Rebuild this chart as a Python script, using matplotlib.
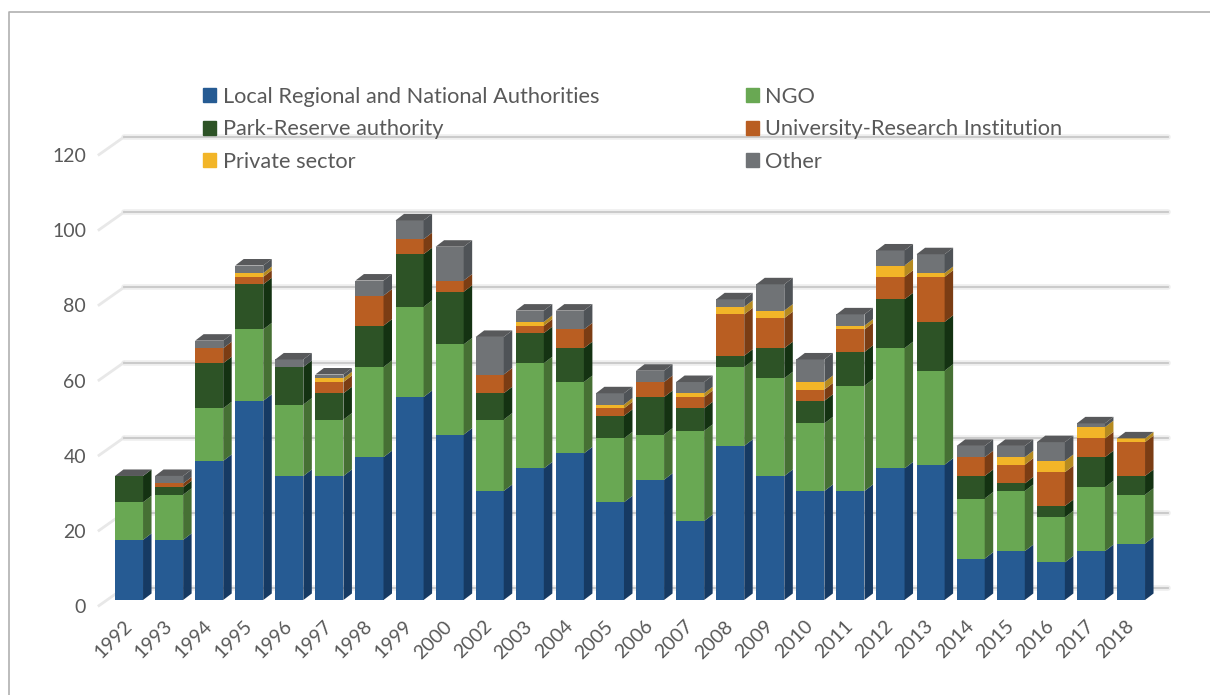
import matplotlib
matplotlib.use("Agg")
import matplotlib.pyplot as plt
from matplotlib.patches import Polygon, Patch
from matplotlib.transforms import ScaledTranslation

years = ["1992", "1993", "1994", "1995", "1996", "1997", "1998", "1999", "2000",
         "2002", "2003", "2004", "2005", "2006", "2007", "2008", "2009", "2010",
         "2011", "2012", "2013", "2014", "2015", "2016", "2017", "2018"]

authorities = [16, 16, 37, 53, 33, 33, 38, 54, 44, 29, 35, 39, 26, 32, 21, 41, 33, 29, 29, 35, 36, 11, 13, 10, 13, 15]
ngo = [10, 12, 14, 19, 19, 15, 24, 24, 24, 19, 28, 19, 17, 12, 24, 21, 26, 18, 28, 32, 25, 16, 16, 12, 17, 13]
park = [7, 2, 12, 12, 10, 7, 11, 14, 14, 7, 8, 9, 6, 10, 6, 3, 8, 6, 9, 13, 13, 6, 2, 3, 8, 5]
university = [0, 1, 4, 2, 0, 3, 8, 4, 3, 5, 2, 5, 2, 4, 3, 11, 8, 3, 6, 6, 12, 5, 5, 9, 5, 9]
private = [0, 0, 0, 1, 0, 1, 0, 0, 0, 0, 1, 0, 1, 0, 1, 2, 2, 2, 1, 3, 1, 0, 2, 3, 3, 1]
other = [0, 2, 2, 2, 2, 1, 4, 5, 9, 10, 3, 5, 3, 3, 3, 2, 7, 6, 3, 4, 5, 3, 3, 5, 1, 0]

series = [authorities, ngo, park, university, private, other]
names = ["Local Regional and National Authorities", "NGO", "Park-Reserve authority",
         "University-Research Institution", "Private sector", "Other"]
front = ["#265b93", "#69a853", "#2d5326", "#b95e22", "#f2b528", "#707376"]
side = ["#163a63", "#467034", "#143212", "#7b3d14", "#b58a20", "#4f5357"]
top_color = "#58595b"
text_color = "#595959"

plt.rcParams["font.family"] = ["Lato", "DejaVu Sans"]

W, H = 1210, 695
fig = plt.figure(figsize=(W / 100, H / 100), dpi=100)

# plot area in pixels of the picture
left, right, base, top = 100, 1170, 600, 149
ax = fig.add_axes([left / W, (H - base) / H, (right - left) / W, (base - top) / H])
step = 40.08
centre = 129
ax.set_xlim((left - centre) / step, (right - centre) / step)
ax.set_ylim(0, 120)
dx = 8.5 / step
dy = 6.5 / 3.76
width = 0.7

for s in ax.spines.values():
    s.set_visible(False)

# back wall grid, floor shifted a little more than the bars' depth
grid_y = 12 / 3.76
grid_x0 = (124 - centre) / step
grid_x1 = (1168 - centre) / step
stub_x0 = (99 - centre) / step
for v in range(0, 121, 20):
    ax.plot([grid_x0, grid_x1], [v + grid_y] * 2, color="#eeeeee", lw=4, zorder=1, clip_on=False, solid_capstyle="round")
    ax.plot([grid_x0, grid_x1], [v + grid_y] * 2, color="#c8c8c8", lw=1.3, zorder=1.1, clip_on=False)
    ax.plot([stub_x0, grid_x0], [v - 1.5, v + grid_y], color="#e8e8e8", lw=2, zorder=1, clip_on=False)

bottom = [0] * len(years)
for vals, fc, sc in zip(series, front, side):
    ax.bar(range(len(years)), vals, width, bottom=bottom, color=fc, zorder=3, clip_on=False)
    for i, v in enumerate(vals):
        if v == 0:
            continue
        x1 = i + width / 2
        b = bottom[i]
        ax.add_patch(Polygon([(x1, b), (x1 + dx, b + dy), (x1 + dx, b + v + dy), (x1, b + v)],
                             closed=True, fc=sc, ec="none", zorder=3, clip_on=False))
    bottom = [b + v for b, v in zip(bottom, vals)]

for i, t in enumerate(bottom):
    x0 = i - width / 2
    x1 = i + width / 2
    ax.add_patch(Polygon([(x0, t), (x0 + dx, t + dy), (x1 + dx, t + dy), (x1, t)],
                         closed=True, fc=top_color, ec="none", zorder=3, clip_on=False))

ax.set_yticks(range(0, 121, 20))
ax.set_xticks(range(len(years)))
ax.set_xticklabels(years, rotation=45, ha="right", va="center", rotation_mode="anchor")
ax.tick_params(axis="y", length=0, pad=10, labelsize=14, labelcolor=text_color)
ax.tick_params(axis="x", length=0, pad=17, labelsize=14, labelcolor=text_color)

# the value labels sit a bit under their front-edge position
for lab in ax.get_yticklabels():
    lab.set_transform(lab.get_transform() + ScaledTranslation(0, -6 / 100, fig.dpi_scale_trans))

# matplotlib fills legend columns first
order = [0, 2, 4, 1, 3, 5]
handles = [Patch(color=front[k]) for k in order]
labels = [names[k] for k in order]
fig.legend(handles, labels, ncol=2, frameon=False, fontsize=15.7, labelcolor=text_color,
           loc="upper left", bbox_to_anchor=(203 / W, 1 - 87 / H), borderpad=0, borderaxespad=0,
           handlelength=0.6, handleheight=0.6, handletextpad=0.3, columnspacing=6.72,
           labelspacing=0.57)

# picture frame
fig.add_artist(plt.Line2D([9 / W, 9 / W, W / W], [0, 1 - 12 / H, 1 - 12 / H], color="#b0b0b0", lw=1.2))

fig.savefig("out.png", dpi=100)
